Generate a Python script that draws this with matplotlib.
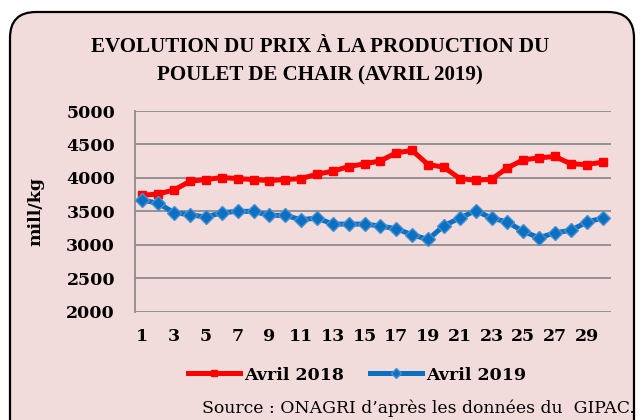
import matplotlib
matplotlib.use('Agg')
import matplotlib.pyplot as plt
from matplotlib.patches import FancyBboxPatch

# ------------------------------------------------------------
# données
# ------------------------------------------------------------
jours = list(range(1, 31))
avril_2018 = [3740, 3760, 3820, 3950, 3975, 4005, 3990, 3975, 3960, 3975,
              3990, 4055, 4100, 4170, 4210, 4255, 4375, 4410, 4200, 4160,
              3990, 3965, 3980, 4150, 4270, 4300, 4320, 4210, 4200, 4235]
avril_2019 = [3670, 3620, 3480, 3450, 3415, 3480, 3500, 3500, 3440, 3440,
              3375, 3400, 3310, 3310, 3310, 3280, 3240, 3150, 3080, 3285,
              3400, 3510, 3400, 3340, 3200, 3105, 3180, 3215, 3340, 3400]
yticks = [2000, 2500, 3000, 3500, 4000, 4500, 5000]
xticks = list(range(1, 30, 2))

bg = '#F2DCDB'
red = '#FF0000'
blue = '#0B6FC2'
grid_c = '#8C8C8C'

fig = plt.figure(figsize=(6.4, 4.2), dpi=100)
fig.patch.set_facecolor('white')

# cadre arrondi (coordonnées en pixels)
bgax = fig.add_axes([0, 0, 1, 1], zorder=0)
bgax.set_xlim(0, 640)
bgax.set_ylim(420, 0)
bgax.axis('off')
box = FancyBboxPatch((10, 12), 624, 440,
                     boxstyle='round,pad=0,rounding_size=26',
                     facecolor=bg, edgecolor='black', linewidth=1.6)
bgax.add_patch(box)

# zone du graphique
ax = fig.add_axes([134.5 / 640, 1 - 311.7 / 420, 476 / 640, 200.7 / 420], zorder=1)
ax.set_facecolor('none')
ax.plot(jours, avril_2018, color=red, lw=3.6, marker='s', ms=6,
        mfc=red, mec=red, label='Avril 2018', zorder=3)
ax.plot(jours, avril_2019, color=blue, lw=3.6, marker='D', ms=6.8,
        mfc=blue, mec='#4A8FD0', mew=1.0, label='Avril 2019', zorder=4)

ax.set_xlim(0.5, 30.5)
ax.set_ylim(2000, 5000)
ax.set_yticks(yticks)
ax.set_xticks(xticks)
ax.grid(axis='y', color=grid_c, lw=1.3)
ax.set_axisbelow(True)
for s in ['top', 'right', 'bottom']:
    ax.spines[s].set_visible(False)
ax.spines['left'].set_color(grid_c)
ax.spines['left'].set_linewidth(1.3)
ax.tick_params(length=0)
for lab in ax.get_xticklabels() + ax.get_yticklabels():
    lab.set_fontfamily('DejaVu Serif')
    lab.set_fontweight('bold')
    lab.set_fontsize(12.5)
ax.tick_params(axis='y', pad=14)
ax.tick_params(axis='x', pad=12)

ax.set_ylabel('mill/kg', fontfamily='DejaVu Serif', fontweight='bold',
              fontsize=12.5)
ax.yaxis.set_label_coords(-0.19, 0.5)

fig.text(0.5, 1 - 47 / 420, 'EVOLUTION DU PRIX À LA PRODUCTION DU',
         ha='center', va='center', fontfamily='Liberation Serif',
         fontweight='bold', fontsize=15.1)
fig.text(0.5, 1 - 75 / 420, 'POULET DE CHAIR (AVRIL 2019)',
         ha='center', va='center', fontfamily='Liberation Serif',
         fontweight='bold', fontsize=15.1)

leg = ax.legend(loc='center', bbox_to_anchor=(357 / 640, 1 - 375 / 420),
                bbox_transform=fig.transFigure, ncol=2, frameon=False,
                handlelength=3.0, columnspacing=1.5, handletextpad=0.25,
                markerscale=0.75,
                prop={'family': 'DejaVu Serif', 'weight': 'bold', 'size': 12.5})

fig.text(635 / 640, 1 - 408 / 420, 'Source : ONAGRI d’après les données du  GIPAC.',
         ha='right', va='center', fontfamily='DejaVu Serif', fontsize=12.4)

fig.savefig('out.png', dpi=100, facecolor='white')
